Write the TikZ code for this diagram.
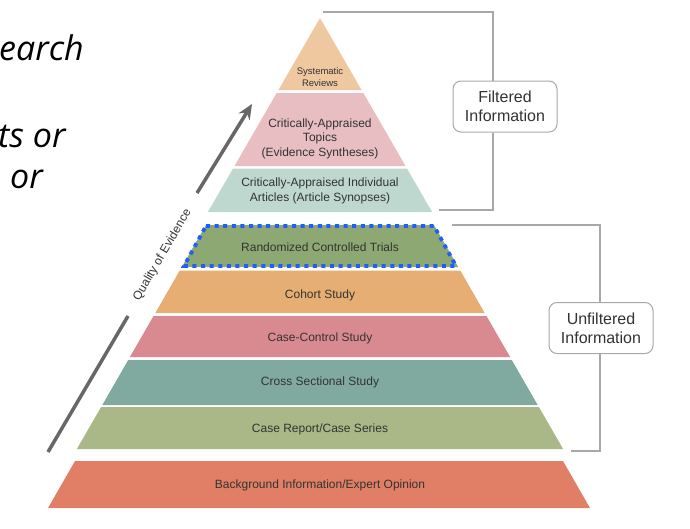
\documentclass[tikz,border=0pt]{standalone}
\usepackage{fontspec}
\setmainfont{Liberation Sans}
\newfontfamily\slidefont{Open Sans}
\usetikzlibrary{arrows.meta}
\definecolor{cSR}{HTML}{EFC8A0}
\definecolor{cCAT}{HTML}{E8BEC2}
\definecolor{cCAI}{HTML}{BFD8CF}
\definecolor{cRCT}{HTML}{8DA872}
\definecolor{cCOH}{HTML}{E6AE72}
\definecolor{cCC}{HTML}{D98A90}
\definecolor{cCS}{HTML}{80AAA0}
\definecolor{cCR}{HTML}{A9B886}
\definecolor{cBG}{HTML}{E07F66}
\definecolor{txt}{HTML}{333333}
\definecolor{brk}{HTML}{A8A8A8}
\definecolor{qual}{HTML}{676767}
\definecolor{dotblue}{HTML}{1E5EFF}
\tikzset{
  lbl/.style={text=txt, font=\fontsize{12}{14.5}\selectfont, align=center, inner sep=0pt},
  infobox/.style={draw=brk, line width=1pt, fill=white, rounded corners=8pt,
    minimum width=104pt, minimum height=51pt, inner sep=0pt, align=center,
    text=txt, font=\fontsize{16}{19}\selectfont},
  bracket/.style={draw=brk, line width=1.3pt},
  qline/.style={draw=qual, line width=3.5pt},
  slide/.style={anchor=base west, inner sep=0pt, font=\slidefont\itshape\fontsize{34}{40}\selectfont}
}
\begin{document}
\begin{tikzpicture}[x=1pt,y=-1pt]
\useasboundingbox (0,0) rectangle (690,528);
\begin{scope}
\clip (0,0) rectangle (690,528);
\node[slide] (s1) at (-1,60) {earch};
\node[slide] (s2) at (-2,147) {ts or};
\node[slide] (s3) at (10,188) {or};
\end{scope}

% filtered layers
\fill[cSR] (320,18) -- (361.6,90) -- (278.4,90) -- cycle;
\fill[cCAT] (276.6,93) -- (363.4,93) -- (405.5,166) -- (234.5,166) -- cycle;
\fill[cCAI] (233,168.5) -- (407,168.5) -- (432.1,212) -- (207.9,212) -- cycle;
% unfiltered layers
\fill[cRCT] (206,225) -- (434,225) -- (458.2,267) -- (181.8,267) -- cycle;
\fill[cCOH] (179.7,270.5) -- (460.3,270.5) -- (484.7,313) -- (155.3,313) -- cycle;
\fill[cCC] (153.5,316) -- (486.5,316) -- (510.1,357) -- (129.9,357) -- cycle;
\fill[cCS] (128.2,360) -- (511.8,360) -- (537.7,405) -- (102.3,405) -- cycle;
\fill[cCR] (101.1,407) -- (538.9,407) -- (563.1,449) -- (76.9,449) -- cycle;
\fill[cBG] (75,461) -- (563,461) -- (590,508) -- (48,508) -- cycle;
% dotted highlight
\draw[dotblue, line width=3.8pt, dash pattern=on 4pt off 4.6pt]
  (206,226) -- (434,226) -- (456,266) -- (184,266) -- cycle;

% labels
\node[lbl, font=\fontsize{9.5}{12}\selectfont] (lSR) at (320,77) {Systematic\\Reviews};
\node[lbl] (lCAT) at (320,138.5) {Critically-Appraised\\Topics\\(Evidence Syntheses)};
\node[lbl] (lCAI) at (320,191) {Critically-Appraised Individual\\Articles (Article Synopses)};
\node[lbl] (lRCT) at (320,247) {Randomized Controlled Trials};
\node[lbl] (lCOH) at (320,295) {Cohort Study};
\node[lbl] (lCC) at (320,338.5) {Case-Control Study};
\node[lbl] (lCS) at (320,382.5) {Cross Sectional Study};
\node[lbl] (lCR) at (320,429) {Case Report/Case Series};
\node[lbl] (lBG) at (320,485.5) {Background Information/Expert Opinion};

% brackets and boxes
\node[infobox] (fbox) at (505,106.5) {Filtered\\Information};
\node[infobox] (ubox) at (601,328) {Unfiltered\\Information};
\coordinate (ft) at (323,12);
\coordinate (fx) at (493,0);
\coordinate (fb) at (439,210);
\coordinate (ut) at (452,225);
\coordinate (ux) at (600,0);
\coordinate (ub) at (571,451);
\draw[bracket] (ft) -| (fbox.north -| fx);
\draw[bracket] (fbox.south -| fx) |- (fb);
\draw[bracket] (ut) -| (ubox.north -| ux);
\draw[bracket] (ubox.south -| ux) |- (ub);

% quality of evidence arrow
\coordinate (q0) at (48,452);
\coordinate (q1) at (128,316);
\coordinate (q2) at (197,193);
\coordinate (q3) at (252,104);
\draw[qline] (q0) -- (q1);
\draw[qline, -{Stealth[length=15pt,width=13pt]}] (q2) -- (q3);
\node[lbl, rotate=59.7] (lQ) at (162.5,255) {Quality of Evidence};
\end{tikzpicture}
\end{document}
